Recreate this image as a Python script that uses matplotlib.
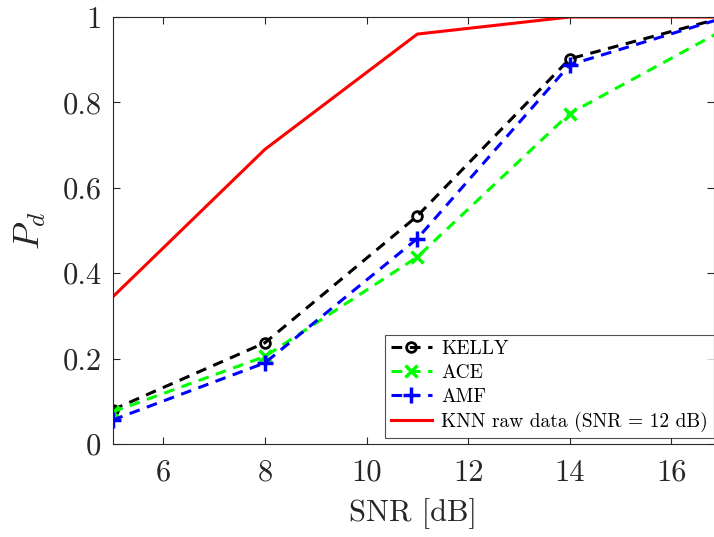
import matplotlib
matplotlib.use("Agg")
import matplotlib.pyplot as plt

snr = [5, 8, 11, 14, 17]
kelly = [0.080, 0.237, 0.534, 0.902, 0.998]
ace = [0.075, 0.205, 0.438, 0.774, 0.968]
amf = [0.056, 0.190, 0.481, 0.888, 0.997]
knn = [0.344, 0.690, 0.960, 1.000, 1.000]

xticks = [6, 8, 10, 12, 14, 16]
yticks = [0, 0.2, 0.4, 0.6, 0.8, 1]
ytick_labels = ["0", "0.2", "0.4", "0.6", "0.8", "1"]

plt.rcParams['font.family'] = 'cmr10'
plt.rcParams['mathtext.fontset'] = 'cm'
plt.rcParams['axes.formatter.use_mathtext'] = True

fig = plt.figure(figsize=(7.14, 5.37), dpi=100)
ax = fig.add_axes([112.5/714, 1-444/537, 1-112.5/714, (444-17)/537])

lw = 2.2
ax.plot(snr, kelly, '--', color='black', lw=lw, marker='o', ms=7, mew=2,
        mfc='none', label='KELLY', dashes=(3.5, 2.5))
ax.plot(snr, ace, '--', color='#00ff00', lw=lw, marker='x', ms=9, mew=2.5,
        label='ACE', dashes=(3.5, 2.5))
ax.plot(snr, amf, '--', color='blue', lw=lw, marker='+', ms=11, mew=2.5,
        label='AMF', dashes=(3.5, 2.5))
ax.plot(snr, knn, '-', color='red', lw=lw, label='KNN raw data (SNR = 12 dB)')

ax.set_xlim(5, 16.84)
ax.set_ylim(0, 1)
ax.set_xticks(xticks)
ax.set_xticklabels([str(t) for t in xticks])
ax.set_yticks(yticks)
ax.set_yticklabels(ytick_labels)
ax.tick_params(direction='in', length=5, width=0.8, top=True, right=True,
               labelsize=22, colors='#262626')
ax.tick_params(axis='x', pad=11)
ax.tick_params(axis='y', pad=8)
for s in ax.spines.values():
    s.set_color('#262626')
    s.set_linewidth(0.8)

ax.set_xlabel('SNR [dB]', fontsize=22, color='#262626', labelpad=8)
ax.set_ylabel(r'$P_d$', fontsize=26, color='#262626', labelpad=10)

leg = ax.legend(loc='lower right', bbox_to_anchor=(1.0, 0.015), fontsize=14,
                frameon=True, fancybox=False, edgecolor='#262626',
                handlelength=2.1, borderpad=0.3, labelspacing=0.3,
                handletextpad=0.5, borderaxespad=0.0)
leg.get_frame().set_linewidth(0.8)

fig.savefig('out.png', dpi=100)
